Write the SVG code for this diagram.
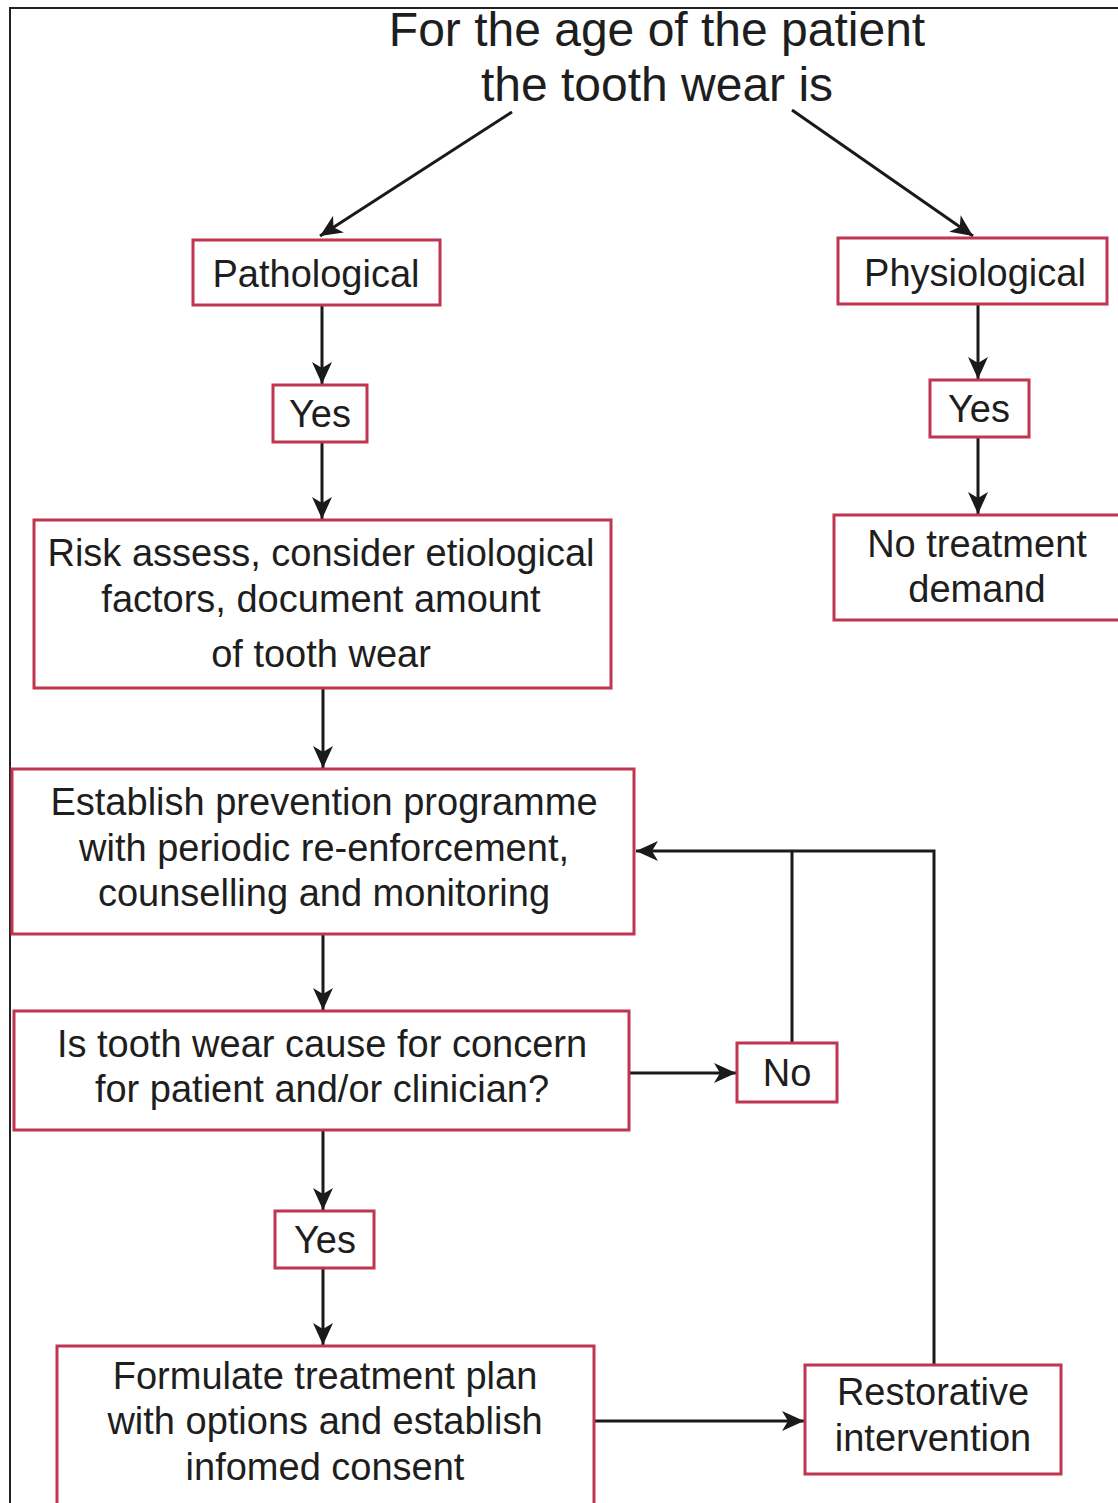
<svg xmlns="http://www.w3.org/2000/svg" width="1118" height="1503" viewBox="0 0 1118 1503">
<defs>
<marker id="ah" viewBox="0 0 22 22" refX="22" refY="11" markerWidth="22" markerHeight="22" markerUnits="userSpaceOnUse" orient="auto">
<path d="M0,1 L22,11 L0,21 L6,11 Z" fill="#1a1a1a"/>
</marker>
<style>
.box{fill:#fff;stroke:#c0354f;stroke-width:3}
.t{font-family:"Liberation Sans",Arial,sans-serif;font-size:38px;fill:#1e1e1e;text-anchor:middle}
.c{fill:none;stroke:#1a1a1a;stroke-width:3}
</style>
</defs>
<rect x="0" y="0" width="1118" height="1503" fill="#fff"/>
<rect x="10" y="8" width="1120" height="1520" fill="none" stroke="#222" stroke-width="2"/>
<g id="connectors">
<line class="c" x1="512" y1="112" x2="320" y2="236" marker-end="url(#ah)"/>
<line class="c" x1="792" y1="110" x2="973" y2="236" marker-end="url(#ah)"/>
<line class="c" x1="322" y1="305" x2="322" y2="384" marker-end="url(#ah)"/>
<line class="c" x1="322" y1="442" x2="322" y2="519" marker-end="url(#ah)"/>
<line class="c" x1="978" y1="304" x2="978" y2="379" marker-end="url(#ah)"/>
<line class="c" x1="978" y1="437" x2="978" y2="514" marker-end="url(#ah)"/>
<line class="c" x1="323" y1="688" x2="323" y2="768" marker-end="url(#ah)"/>
<line class="c" x1="323" y1="934" x2="323" y2="1010" marker-end="url(#ah)"/>
<line class="c" x1="323" y1="1130" x2="323" y2="1210" marker-end="url(#ah)"/>
<line class="c" x1="323" y1="1268" x2="323" y2="1345" marker-end="url(#ah)"/>
<line class="c" x1="629" y1="1073" x2="736" y2="1073" marker-end="url(#ah)"/>
<line class="c" x1="594" y1="1421" x2="804" y2="1421" marker-end="url(#ah)"/>
<polyline class="c" points="934,1365 934,851 636,851" marker-end="url(#ah)"/>
<line class="c" x1="792" y1="1043" x2="792" y2="851"/>
</g>
<g id="title">
<text class="t" x="657" y="46" style="font-size:48px">For the age of the patient</text>
<text class="t" x="657" y="101" style="font-size:48px">the tooth wear is</text>
</g>
<g id="pathological">
<rect class="box" x="193" y="240" width="247" height="65"/>
<text class="t" x="316" y="287">Pathological</text>
</g>
<g id="yes-left">
<rect class="box" x="273" y="385" width="94" height="57"/>
<text class="t" x="320" y="427">Yes</text>
</g>
<g id="physiological">
<rect class="box" x="838" y="238" width="269" height="66"/>
<text class="t" x="975" y="286">Physiological</text>
</g>
<g id="yes-right">
<rect class="box" x="930" y="380" width="99" height="57"/>
<text class="t" x="979" y="422">Yes</text>
</g>
<g id="no-treatment">
<rect class="box" x="834" y="515" width="290" height="105"/>
<text class="t" x="977" y="557">No treatment</text>
<text class="t" x="977" y="602">demand</text>
</g>
<g id="risk">
<rect class="box" x="34" y="520" width="577" height="168"/>
<text class="t" x="321" y="566">Risk assess, consider etiological</text>
<text class="t" x="321" y="612">factors, document amount</text>
<text class="t" x="321" y="667">of tooth wear</text>
</g>
<g id="establish">
<rect class="box" x="12" y="769" width="622" height="165"/>
<text class="t" x="324" y="815">Establish prevention programme</text>
<text class="t" x="324" y="861">with periodic re-enforcement,</text>
<text class="t" x="324" y="906">counselling and monitoring</text>
</g>
<g id="concern">
<rect class="box" x="14" y="1011" width="615" height="119"/>
<text class="t" x="322" y="1057">Is tooth wear cause for concern</text>
<text class="t" x="322" y="1102">for patient and/or clinician?</text>
</g>
<g id="no">
<rect class="box" x="737" y="1043" width="100" height="59"/>
<text class="t" x="787" y="1086">No</text>
</g>
<g id="yes-bottom">
<rect class="box" x="275" y="1211" width="99" height="57"/>
<text class="t" x="325" y="1253">Yes</text>
</g>
<g id="formulate">
<rect class="box" x="57" y="1346" width="537" height="170"/>
<text class="t" x="325" y="1389">Formulate treatment plan</text>
<text class="t" x="325" y="1434">with options and establish</text>
<text class="t" x="325" y="1480">infomed consent</text>
</g>
<g id="restorative">
<rect class="box" x="805" y="1365" width="256" height="109"/>
<text class="t" x="933" y="1405">Restorative</text>
<text class="t" x="933" y="1451">intervention</text>
</g>
</svg>
